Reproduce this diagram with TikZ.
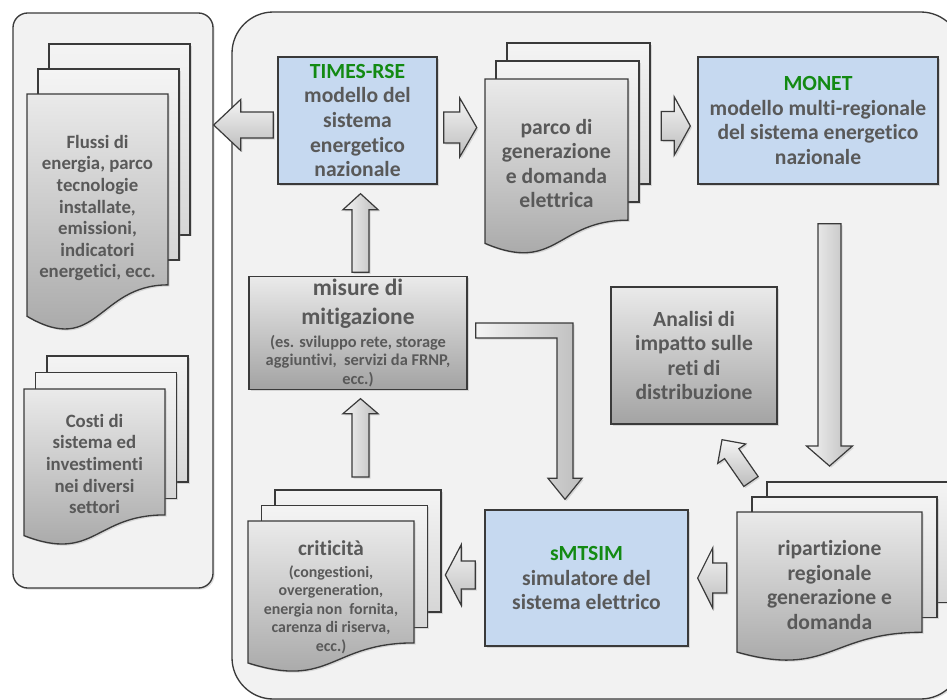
\documentclass[tikz,border=0pt]{standalone}
\usepackage{fontspec}
\setmainfont{Carlito}[Ligatures=NoCommon]
\usetikzlibrary{calc,shadows}
\definecolor{panelbg}{HTML}{F2F2F2}
\definecolor{edgec}{HTML}{3A3A3A}
\definecolor{txtc}{HTML}{595959}
\definecolor{grnc}{HTML}{138A13}
\definecolor{bluec}{HTML}{C6D9F0}
\definecolor{docTop}{HTML}{EAEAEA}
\definecolor{docBot}{HTML}{A3A3A3}
\definecolor{backTop}{HTML}{F4F4F4}
\definecolor{backBot}{HTML}{D6D6D6}
\definecolor{arLight}{HTML}{F4F4F4}
\definecolor{arDark}{HTML}{BDBDBD}
\def\u{0.75pt}
\newcommand\fsA{\fontsize{14.1}{16.2}\selectfont}
\newcommand\fsB{\fontsize{16.2}{18.4}\selectfont}
\newcommand\fsC{\fontsize{17.6}{21.75}\selectfont}
\newcommand\fsD{\fontsize{11.9}{13.9}\selectfont}
\newcommand\fsM{\fontsize{12.3}{13.9}\selectfont}
\newcommand\fsE{\fontsize{15.9}{18}\selectfont}
\tikzset{
  shd/.style={drop shadow={opacity=0.25,shadow xshift=1.2pt,shadow yshift=-1.2pt}},
  panel/.style={shd, fill=panelbg, draw=edgec, line width=1pt, inner sep=0pt},
  bluebox/.style={shd, fill=bluec, draw=edgec, line width=1pt, inner sep=0pt, align=center, text=txtc, font=\bfseries\fsB},
  graybox/.style={shd, top color=docTop, bottom color=docBot, draw=edgec, line width=1pt, inner sep=0pt, align=center, text=txtc},
  docfront/.style={shd, top color=docTop, bottom color=docBot, draw=edgec, line width=1pt},
  docback/.style={shd, top color=backTop, bottom color=backBot, draw=edgec, line width=1pt},
  doctext/.style={inner sep=0pt, align=center, text=txtc, font=\bfseries\fsA},
  arbody/.style={shd, draw=edgec, line width=0.9pt, line join=miter},
  hshade/.style={top color=arLight, bottom color=arDark},
  vshade/.style={left color=arLight, right color=arDark},
  ar/.style={shift={(\x1,\y1)}, rotate=\n2}
}
% block arrow: [shading]{tail}{tip}{shaft half width}{head half width}{head length}
\newcommand\barrow[6][]{%
  \path[arbody,#1] let \p1=(#2), \p2=(#3),
    \n1={veclen(\x2-\x1,\y2-\y1)}, \n2={atan2(\y2-\y1,\x2-\x1)} in
    ([ar]0pt,-#4) -- ([ar]\n1-#6*0.75pt,-#4) -- ([ar]\n1-#6*0.75pt,-#5) -- ([ar]\n1,0)
    -- ([ar]\n1-#6*0.75pt,#5) -- ([ar]\n1-#6*0.75pt,#4) -- ([ar]0pt,#4) -- cycle;}
% document stack: x0, y0, w, h, dx, dy
\newcommand\docstack[6]{%
  \path[docback] (#1+2*#5,#2-2*#6) rectangle ++(#3,0.802*#4);
  \path[docback] (#1+#5,#2-#6) rectangle ++(#3,0.802*#4);
  \path[docfront] (#1,#2) -- ++(#3,0) -- ++(0,0.802*#4)
    .. controls ++(-#3/2,0) and (#1+#3/2,#2+1.1075*#4) .. (#1,#2+0.934*#4) -- cycle;}
\begin{document}
\begin{tikzpicture}[x=0.75pt,y=-0.75pt]
\useasboundingbox (0,0) rectangle (947,700);
\clip (0,0) rectangle (947,700);
\fill[white] (0,0) rectangle (947,700);

% panels
\node[panel, rounded corners=11pt, minimum width=200*\u, minimum height=575*\u] (leftpanel) at (113,300.5) {};
\node[panel, rounded corners=31pt, minimum width=730*\u, minimum height=687*\u] (mainpanel) at (597,355.5) {};

% documents
\docstack{27}{94}{141}{238}{11}{25}
\node[doctext, minimum width=141*\u] (flussi) at (97.5,208) {Flussi di\\energia, parco\\tecnologie\\installate,\\emissioni,\\indicatori\\energetici, ecc.};
\docstack{24}{389}{141}{157}{11.5}{16.5}
\node[doctext, minimum width=141*\u] (costi) at (94.5,464) {Costi di\\sistema ed\\investimenti\\nei diversi\\settori};
\docstack{485}{79}{143}{176}{11}{18}
\node[doctext, font=\bfseries\fsB, minimum width=143*\u] (parco) at (556.5,163.5) {parco di\\generazione\\e domanda\\elettrica};
\docstack{248}{521}{166}{152}{13.5}{15.5}
\node[doctext, font=\bfseries\fsD, minimum width=166*\u] (crit) at (331,597) {{\fsE criticità}\\[2.6pt](congestioni,\\overgeneration,\\energia non~ fornita,\\carenza di riserva,\\ecc.)};
\docstack{737}{512}{185}{150}{15}{15}
\node[doctext, font=\bfseries\fsB, minimum width=185*\u] (ripart) at (829.5,585) {ripartizione\\regionale\\generazione e\\domanda};

% boxes
\node[bluebox, minimum width=159*\u, minimum height=127*\u] (times) at (357.5,120.5) {\textcolor{grnc}{TIMES-RSE}\\modello del\\sistema\\energetico\\nazionale};
\node[bluebox, minimum width=240*\u, minimum height=127*\u] (monet) at (818,120.5) {\textcolor{grnc}{MONET}\\modello multi-regionale\\del sistema energetico\\nazionale};
\node[graybox, font=\bfseries\fsM, minimum width=218*\u, minimum height=113*\u] (misure) at (358,333) {{\fsC misure di}\\[7.8pt]{\fsC mitigazione}\\[3.2pt](es. sviluppo rete,~storage\\aggiuntivi,~ servizi da FRNP,\\ecc.)};
\node[graybox, font=\bfseries\fsB, minimum width=166*\u, minimum height=137*\u] (analisi) at (694,355.5) {Analisi di\\impatto sulle\\reti di\\distribuzione};
\node[bluebox, minimum width=203*\u, minimum height=136*\u] (smtsim) at (586.5,578) {\textcolor{grnc}{sMTSIM}\\simulatore del\\sistema elettrico};

% block arrows
\barrow[hshade]{$(times.west)+(-4,4.5)$}{$(leftpanel.east|-times.west)+(0,4.5)$}{13}{25.5}{27}
\barrow[hshade]{$(times.east)+(6,7)$}{$(parco.west|-times.east)+(-8,7)$}{15.5}{29.5}{17}
\barrow[hshade]{$(parco.east|-monet.west)+(33,5.5)$}{$(monet.west)+(-7,5.5)$}{14.5}{29}{16}
\barrow[vshade]{$(misure.north)+(2.5,-3.5)$}{$(times.south)+(3,9)$}{8.5}{17.5}{16}
\barrow[vshade]{$(crit.center)+(29.5,-120)$}{$(misure.south)+(2.5,8.5)$}{8.5}{17.5}{15}
\barrow[vshade]{$(monet.south)+(11.5,39)$}{$(ripart.center)+(0,-119)$}{11.5}{23}{20}
\barrow[hshade]{$(ripart.west|-smtsim.east)+(-10,0)$}{$(smtsim.east)+(9,0)$}{15}{30}{15}
\barrow[hshade]{$(smtsim.west)+(-9,-3)$}{$(smtsim.west)+(-39,-3)$}{14}{30.5}{16}
\barrow[hshade]{$(ripart.center)+(-78.5,-103.5)$}{$(analisi.south)+(28,15)$}{8.7}{17}{17}

% elbow arrow misure -> sMTSIM
\coordinate (e1) at ($(misure.east)+(8,-2.5)$);
\coordinate (e2) at ($(smtsim.north)+(-21.5,-10)$);
\path[arbody, vshade] ($(e1)+(0,-7.5)$) -- ($(e2|-e1)+(8,-7.5)$) -- ($(e2)+(8,-21)$)
  -- ($(e2)+(17,-21)$) -- (e2) -- ($(e2)+(-17,-21)$) -- ($(e2)+(-8,-21)$)
  -- ($(e2|-e1)+(-8,7.5)$) -- ($(e1)+(0,7.5)$) -- cycle;
\end{tikzpicture}
\end{document}
